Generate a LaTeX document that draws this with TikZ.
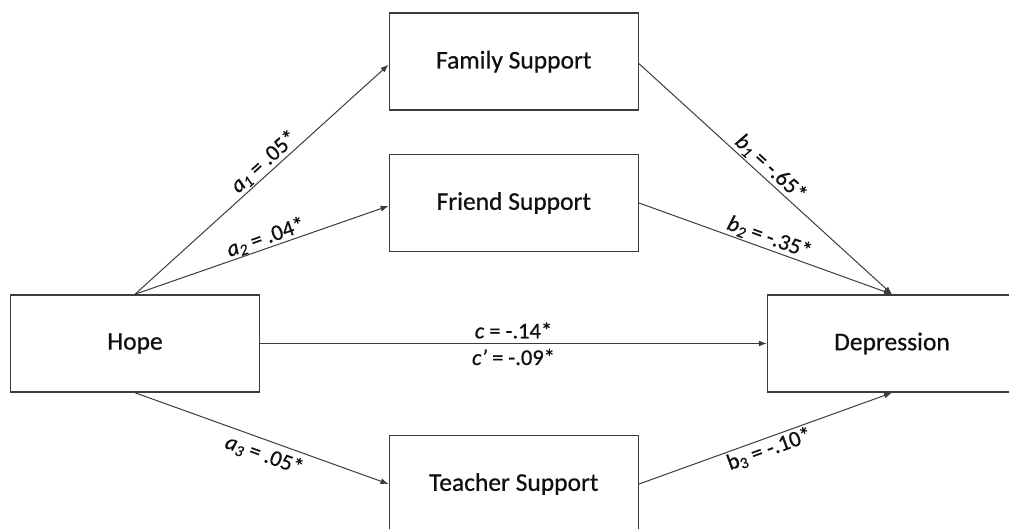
\documentclass[tikz,border=0pt]{standalone}
\usepackage{fontspec}
\setmainfont{Carlito}[FakeBold=0.6]
\usetikzlibrary{arrows.meta,calc}
\definecolor{lineg}{RGB}{60,60,60}
\definecolor{txt}{RGB}{15,15,15}
\begin{document}
\begin{tikzpicture}[x=1bp,y=1bp,
  box/.style={draw=lineg, line width=1.5bp, minimum width=249bp, minimum height=97bp, inner sep=0pt, text=txt, font=\fontsize{25.5bp}{30bp}\selectfont},
  conn/.style={draw=lineg, line width=1bp, -{Latex[length=8bp,width=6bp]}},
  lab/.style={sloped, inner sep=1.5bp, text=txt, font=\fontsize{22.5bp}{26bp}\selectfont}]
\useasboundingbox (0,0) rectangle (1009,529);
\begin{scope}
\clip (0,0) rectangle (1009,529);
\node[box] (hope) at (135,185.5) {Hope};
\node[box] (family) at (513.8,467.3) {Family Support};
\node[box] (friend) at (513.8,326) {Friend Support};
\node[box] (teacher) at (513.8,45) {Teacher Support};
\node[box] (depr) at (892,185.5) {Depression};
\end{scope}
\draw[conn] (hope.north) -- node[lab, above, pos=0.54] {\textit{a}\textsubscript{\textit{1}} = .05*} ($(family.west)+(0,-3)$);
\draw[conn] (hope.north) -- node[lab, above, pos=0.53, inner sep=0.5bp] {\textit{a}\textsubscript{\textit{2}} = .04*} ($(friend.west)+(0,-3)$);
\draw[conn] (hope.south) -- node[lab, below, pos=0.53, inner sep=5bp] {\textit{a}\textsubscript{\textit{3}} = .05*} (teacher.west);
\draw[conn] (hope.east) -- node[lab, above, midway, inner sep=4.5bp] {\textit{c} = -.14*} node[lab, below, midway, inner sep=5bp] {\textit{c’} = -.09*} (depr.west);
\draw[conn] ($(family.east)+(0,-2)$) -- node[lab, above, pos=0.49] {\textit{b}\textsubscript{\textit{1}} = -.65*} (depr.north);
\draw[conn] (friend.east) -- node[lab, above, pos=0.5] {\textit{b}\textsubscript{\textit{2}} = -.35*} (depr.north);
\draw[conn] (teacher.east) -- node[lab, below, pos=0.5] {b\textsubscript{3} = -.10*} (depr.south);
\end{tikzpicture}
\end{document}
